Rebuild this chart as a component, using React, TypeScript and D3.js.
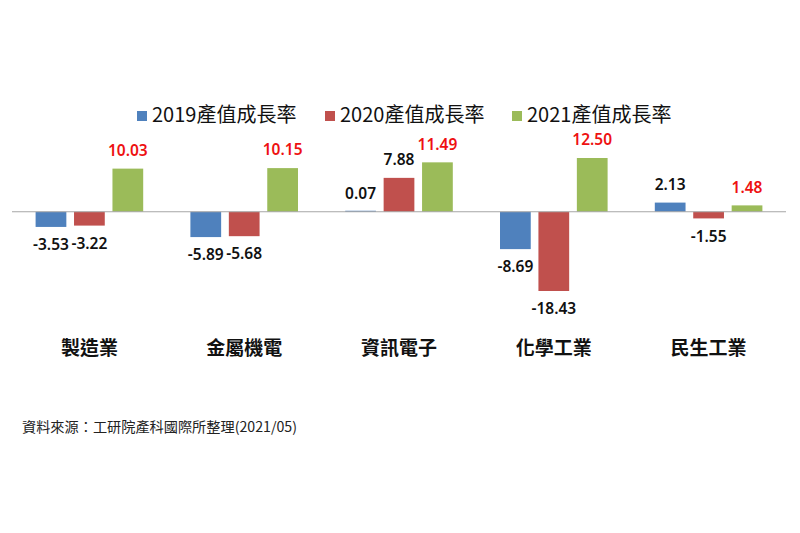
import React from "react";
import * as d3 from "d3";

const categories = ["製造業", "金屬機電", "資訊電子", "化學工業", "民生工業"];
const seriesNames = ["2019產值成長率", "2020產值成長率", "2021產值成長率"];
const values2019 = [-3.53, -5.89, 0.07, -8.69, 2.13];
const values2020 = [-3.22, -5.68, 7.88, -18.43, -1.55];
const values2021 = [10.03, 10.15, 11.49, 12.5, 1.48];
const seriesValues = [values2019, values2020, values2021];
const seriesColors = ["#4f81bd", "#c0504d", "#9bbb59"];
const labelColors = ["#111111", "#111111", "#ee1111"];
const sourceText = "資料來源：工研院產科國際所整理(2021/05)";

const W = 800;
const H = 533;
const FONT = "'Noto Sans CJK TC', 'Noto Sans', sans-serif";

export default function App() {
  const x0 = d3.scaleBand<string>().domain(categories).range([12, 786]).paddingInner(0).paddingOuter(0);
  const x1 = d3
    .scaleBand<number>()
    .domain([0, 1, 2])
    .range([23.6, x0.bandwidth() - 23.6])
    .paddingInner(0.2)
    .paddingOuter(0);
  const y = d3.scaleLinear().domain([-18.43, 12.5]).range([291, 158]);
  const zero = y(0);

  const legendX = [137, 325, 512];

  return (
    <svg
      width={W}
      height={H}
      style={{ position: "absolute", left: 0, top: 0, background: "#fff" }}
      fontFamily={FONT}
    >
      <rect x={0} y={0} width={W} height={H} fill="#fff" />
      {/* legend */}
      {seriesNames.map((n, i) => (
        <g key={n}>
          <rect x={legendX[i]} y={111} width={10} height={10} fill={seriesColors[i]} />
          <text x={legendX[i] + 15} y={117} fontSize={20} dominantBaseline="middle" fill="#111">
            {n}
          </text>
        </g>
      ))}
      {/* bars */}
      {categories.map((c, ci) => (
        <g key={c} transform={`translate(${x0(c)},0)`}>
          {seriesValues.map((vals, si) => {
            const v = vals[ci];
            const h = Math.max(Math.abs(y(v) - zero), 1);
            return (
              <rect
                key={si}
                x={x1(si)}
                y={v >= 0 ? zero - h : zero}
                width={x1.bandwidth()}
                height={h}
                fill={seriesColors[si]}
              />
            );
          })}
        </g>
      ))}
      {/* zero axis */}
      <line x1={12} x2={786} y1={zero} y2={zero} stroke="#a6a6a6" strokeWidth={1.2} />
      {/* value labels */}
      {categories.map((c, ci) => (
        <g key={c + "l"} transform={`translate(${x0(c)},0)`}>
          {seriesValues.map((vals, si) => {
            const v = vals[ci];
            const cx = (x1(si) as number) + x1.bandwidth() / 2;
            const ly = v >= 0 ? Math.min(y(v), zero) - 17 : y(v) + 19;
            return (
              <text
                key={si}
                x={cx}
                y={ly}
                fontSize={15.5}
                fontWeight={600}
                fontFamily="'Noto Sans', sans-serif"
                textAnchor="middle"
                dominantBaseline="middle"
                fill={labelColors[si]}
              >
                {v.toFixed(2)}
              </text>
            );
          })}
        </g>
      ))}
      {/* category labels */}
      {categories.map((c) => (
        <text
          key={c + "c"}
          x={(x0(c) as number) + x0.bandwidth() / 2}
          y={350}
          fontSize={19}
          fontWeight={700}
          textAnchor="middle"
          dominantBaseline="middle"
          fill="#111"
        >
          {c}
        </text>
      ))}
      {/* source */}
      <text x={22} y={428} fontSize={14} dominantBaseline="middle" fill="#222" textLength={275} lengthAdjust="spacingAndGlyphs">
        {sourceText}
      </text>
    </svg>
  );
}
